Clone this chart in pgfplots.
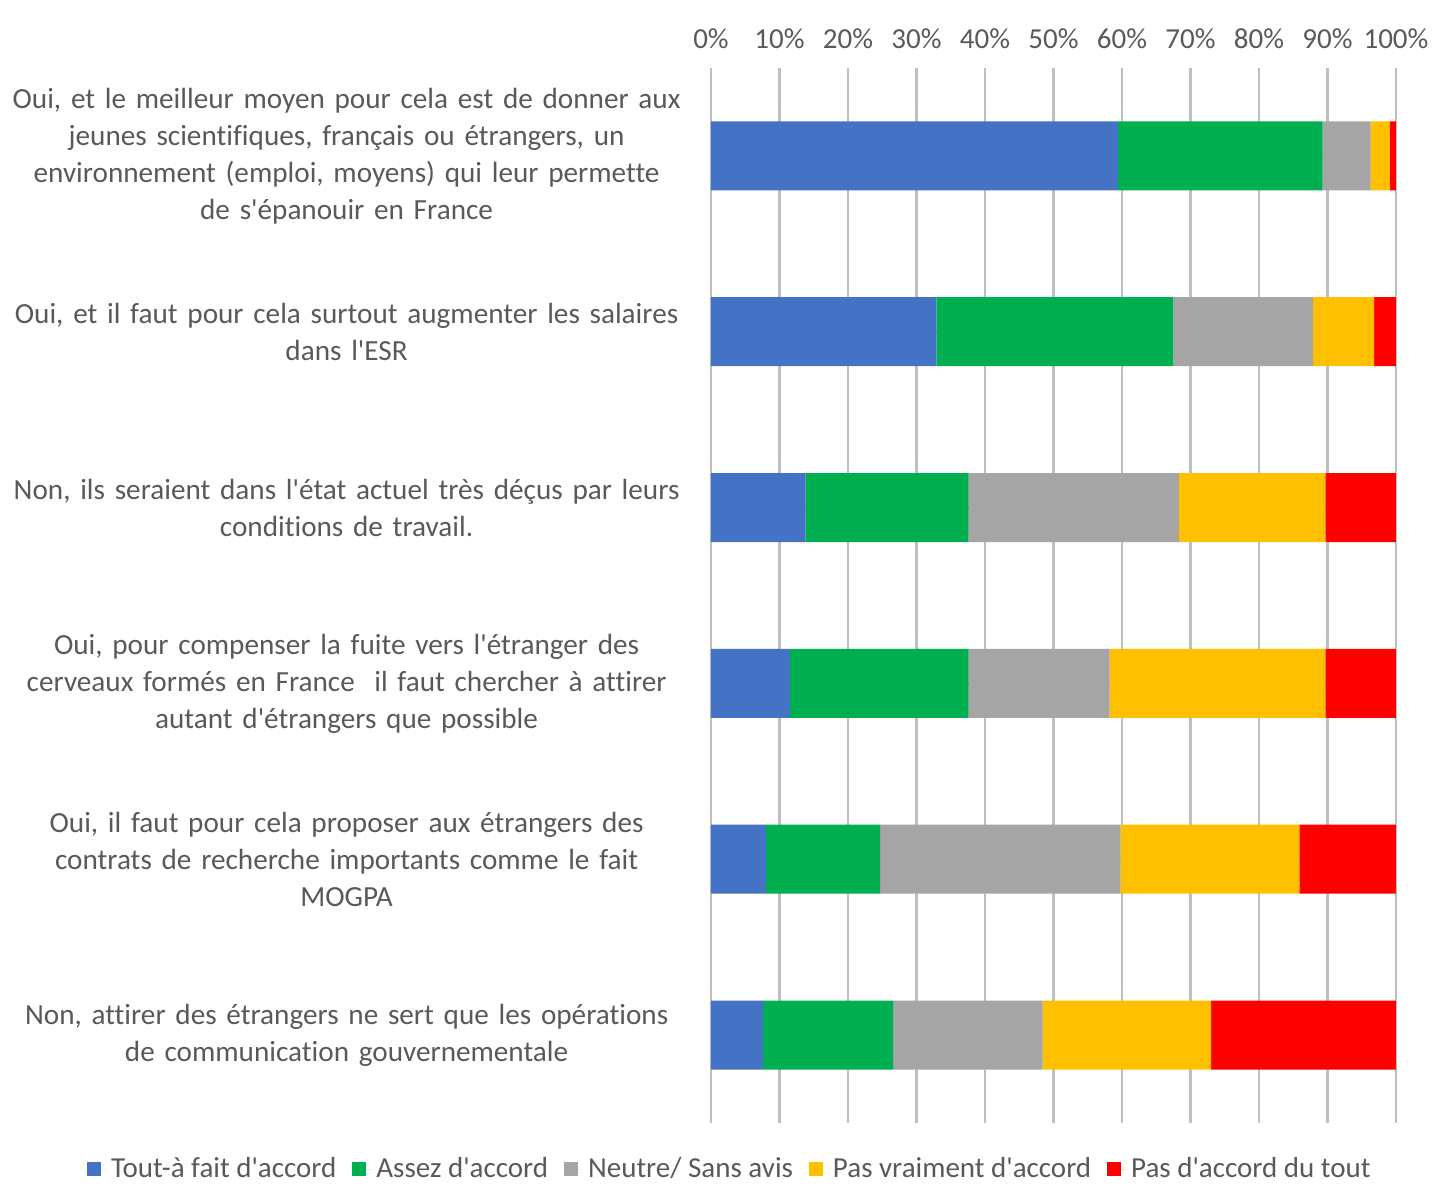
\documentclass[border=0pt]{standalone}
\usepackage{pgfplots}
\pgfplotsset{compat=1.18}
\usepackage{fontspec}
\setmainfont{Carlito}[Ligatures={TeXOff,CommonOff}]
\definecolor{cBlue}{HTML}{4472C4}
\definecolor{cGreen}{HTML}{00B050}
\definecolor{cGray}{HTML}{A5A5A5}
\definecolor{cYellow}{HTML}{FFC000}
\definecolor{cRed}{HTML}{FF0000}
\definecolor{txt}{HTML}{595959}
\definecolor{grid}{HTML}{D9D9D9}
\begin{document}
\begin{tikzpicture}
\begin{axis}[
  scale only axis,
  width=342.5pt, height=527.5pt,
  xbar stacked,
  bar width=34.5pt,
  xmin=0, xmax=100,
  ymin=-0.5, ymax=5.5,
  y dir=reverse,
  axis line style={draw=none},
  xtick={0,10,...,100},
  xticklabel pos=upper,
  xticklabel={\pgfmathprintnumber{\tick}\%},
  xticklabel style={font=\fontsize{14.5}{16}\selectfont, text=txt, yshift=6pt},
  /pgf/number format/assume math mode=true,
  major tick length=0pt,
  xmajorgrids,
  major grid style={grid, line width=1.2pt},
  ytick={0,1,2,3,4,5},
  yticklabels={
    {Oui, et le meilleur moyen pour cela est de donner aux\\jeunes scientifiques, français ou étrangers, un\\environnement (emploi, moyens) qui leur permette\\de s'épanouir en France},
    {Oui, et il faut pour cela surtout augmenter les salaires\\dans l'ESR},
    {Non, ils seraient dans l'état actuel très déçus par leurs\\conditions de travail.},
    {Oui, pour compenser la fuite vers l'étranger des\\cerveaux formés en France \ il faut chercher à attirer\\autant d'étrangers que possible},
    {Oui, il faut pour cela proposer aux étrangers des\\contrats de recherche importants comme le fait\\MOGPA},
    {Non, attirer des étrangers ne sert que les opérations\\de communication gouvernementale}
  },
  yticklabel style={font=\fontsize{14.6}{18.5}\selectfont, text=txt, text width=336pt, align=center, inner sep=0pt, xshift=-14pt},
  legend style={draw=none, fill=none, at={(rel axis cs:0.029,-0.044)}, anchor=center,
    font=\fontsize{14.5}{16}\selectfont, text=txt, legend columns=5, inner sep=0pt,
    /tikz/every even column/.append style={column sep=6pt}},
  legend image code/.code={\fill[#1] (0pt,-3.5pt) rectangle (7pt,3.5pt); \path (0pt,0pt) -- (10pt,0pt);},
  legend cell align=left,
]
\addplot[fill=cBlue, draw=none] coordinates {(59.4,0) (32.9,1) (13.8,2) (11.5,3) (8.0,4) (7.6,5)};
\addplot[fill=cGreen, draw=none] coordinates {(29.9,0) (34.6,1) (23.8,2) (26.1,3) (16.7,4) (19.0,5)};
\addplot[fill=cGray, draw=none] coordinates {(7.0,0) (20.4,1) (30.7,2) (20.6,3) (35.1,4) (21.8,5)};
\addplot[fill=cYellow, draw=none] coordinates {(2.8,0) (8.9,1) (21.4,2) (31.5,3) (26.1,4) (24.6,5)};
\addplot[fill=cRed, draw=none] coordinates {(0.9,0) (3.2,1) (10.3,2) (10.3,3) (14.1,4) (27.0,5)};
\legend{Tout-à fait d'accord, Assez d'accord, Neutre/ Sans avis, Pas vraiment d'accord, Pas d'accord du tout}
\end{axis}
\pgfresetboundingbox
\path[use as bounding box] (-355.5pt,-31.5pt) rectangle (360.5pt,561.5pt);
\end{tikzpicture}
\end{document}
